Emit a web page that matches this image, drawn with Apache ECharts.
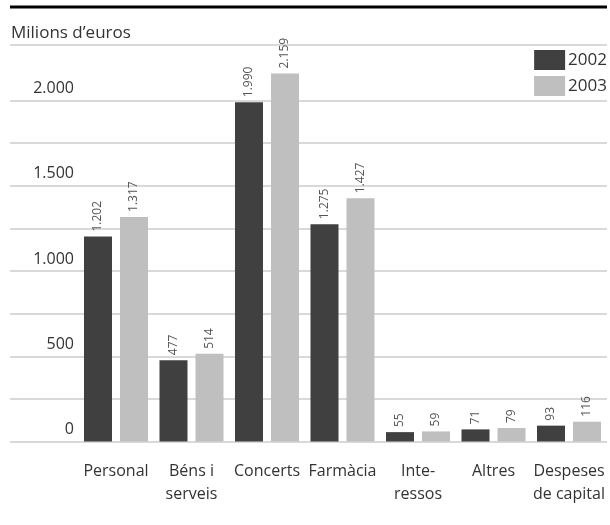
<!DOCTYPE html>
<html>
<head>
<meta charset="utf-8">
<script src="https://cdn.jsdelivr.net/npm/echarts@6/dist/echarts.min.js"></script>
<style>
  html, body { margin: 0; padding: 0; background: #fff; }
  #chart { width: 610px; height: 525px; }
</style>
</head>
<body>
<div id="chart"></div>
<script>
// Despesa per capítols, milions d'euros
const categories = ['Personal', 'Béns i\nserveis', 'Concerts', 'Farmàcia', 'Inte-\nressos', 'Altres', 'Despeses\nde capital'];
const values2002 = [1202, 477, 1990, 1275, 55, 71, 93];
const values2003 = [1317, 514, 2159, 1427, 59, 79, 116];
const yTicks = [0, 500, 1000, 1500, 2000];

const FONT = '"Open Sans", "Noto Sans", sans-serif';
const GRID_COLOR = '#cccccc';

// Thousands separator with a dot
function fmt(v) {
  return String(v).replace(/\B(?=(\d{3})+(?!\d))/g, '.');
}

const chart = echarts.init(document.getElementById('chart'), null, { renderer: 'canvas' });

const barLabel = {
  show: true,
  position: 'top',
  rotate: 90,
  align: 'left',
  verticalAlign: 'middle',
  distance: 5,
  fontFamily: FONT,
  fontSize: 12,
  color: '#555555',
  formatter: function (p) { return fmt(p.value); }
};

const option = {
  backgroundColor: '#ffffff',
  animation: false,
  textStyle: { fontFamily: FONT },
  title: {
    text: 'Milions d\u2019euros',
    left: 6,
    top: 20,
    textStyle: { fontFamily: FONT, fontSize: 17, fontWeight: 'normal', color: '#333333' }
  },
  legend: {
    orient: 'vertical',
    right: 3,
    top: 50,
    padding: 0,
    itemWidth: 31,
    itemHeight: 20,
    itemGap: 6,
    icon: 'rect',
    data: ['2002', '2003'],
    textStyle: { fontFamily: FONT, fontSize: 17, color: '#333333', padding: [0, 0, 0, -2] }
  },
  graphic: [
    { type: 'line', shape: { x1: 10, y1: 7, x2: 607, y2: 7 }, style: { stroke: '#000000', lineWidth: 3 } },
    { type: 'line', shape: { x1: 10, y1: 45, x2: 607, y2: 45 }, style: { stroke: GRID_COLOR, lineWidth: 1.5 } }
  ],
  grid: [
    // gridlines and value labels
    { left: 10, right: 3, top: 100.5, bottom: 83.5 },
    // bars
    { left: 78.25, right: 3.25, top: 57.9, bottom: 83.5 }
  ],
  xAxis: [
    { gridIndex: 0, type: 'category', data: [], show: false },
    {
      gridIndex: 1,
      type: 'category',
      data: categories,
      axisLine: { show: false },
      axisTick: { show: false },
      axisLabel: {
        interval: 0,
        margin: 19,
        fontFamily: FONT,
        fontSize: 16,
        lineHeight: 22.5,
        color: '#333333'
      }
    }
  ],
  yAxis: [
    {
      gridIndex: 0,
      type: 'value',
      min: 0,
      max: 2000,
      interval: 250,
      axisLine: { show: false },
      axisTick: { show: false },
      splitLine: { show: true, lineStyle: { color: GRID_COLOR, width: 1.5 } },
      axisLabel: {
        inside: true,
        margin: 64,
        align: 'right',
        verticalAlign: 'bottom',
        padding: [0, 0, 4, 0],
        fontFamily: FONT,
        fontSize: 16,
        color: '#333333',
        formatter: function (v) { return yTicks.indexOf(v) >= 0 ? fmt(v) : ''; }
      }
    },
    { gridIndex: 1, type: 'value', min: 0, max: 2250, show: false }
  ],
  series: [
    {
      name: '2002',
      type: 'bar',
      xAxisIndex: 1,
      yAxisIndex: 1,
      data: values2002,
      barWidth: 28,
      barGap: '28.6%',
      itemStyle: { color: '#404040' },
      label: barLabel
    },
    {
      name: '2003',
      type: 'bar',
      xAxisIndex: 1,
      yAxisIndex: 1,
      data: values2003,
      barWidth: 28,
      barGap: '28.6%',
      itemStyle: { color: '#bfbfbf' },
      label: barLabel
    }
  ]
};

chart.setOption(option);
</script>
</body>
</html>
